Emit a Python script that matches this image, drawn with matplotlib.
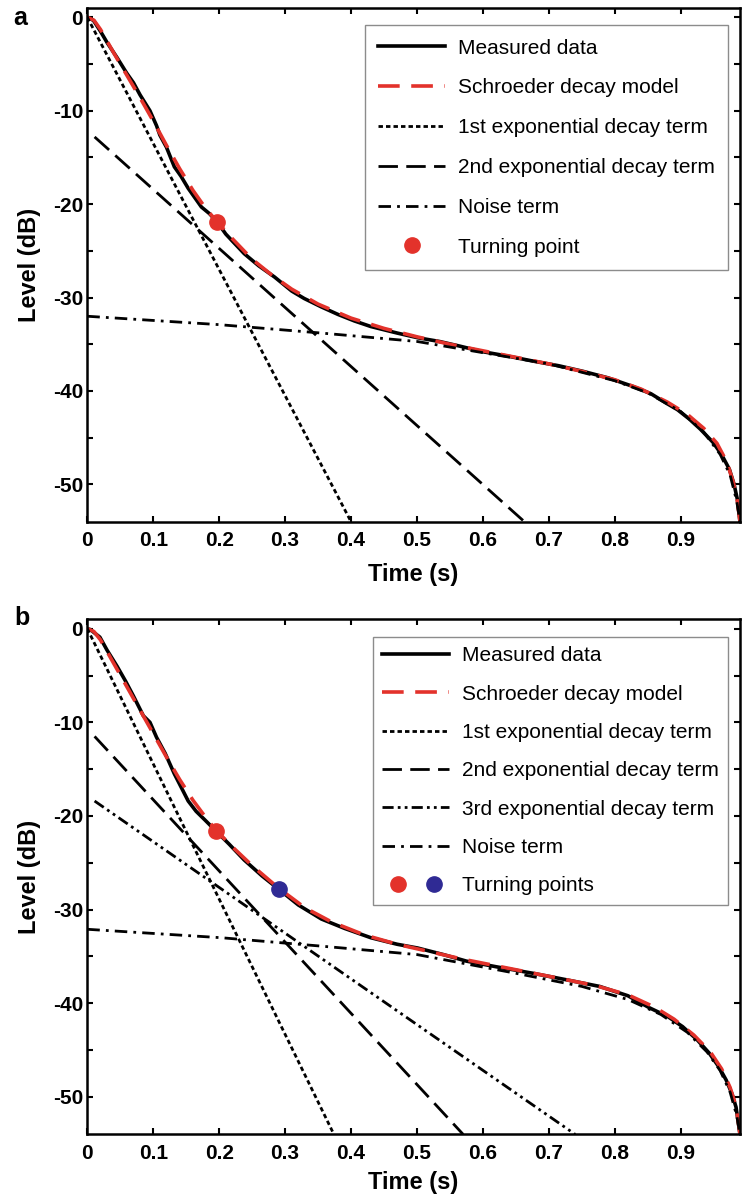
import matplotlib
matplotlib.use("Agg")
import matplotlib.pyplot as plt
from matplotlib.legend_handler import HandlerTuple

plt.rcParams['font.family'] = ['Liberation Sans', 'DejaVu Sans']
plt.rcParams['axes.unicode_minus'] = False

RED = '#e3322b'
BLUE = '#2f2a94'

# ---------------- panel a data ----------------
a_meas_t = [0, 0.005, 0.01, 0.02, 0.03, 0.045, 0.06, 0.07, 0.08, 0.095, 0.105, 0.11,
            0.12, 0.132, 0.142, 0.153, 0.16, 0.173, 0.185, 0.197, 0.21, 0.238, 0.26,
            0.284, 0.31, 0.329, 0.355, 0.38, 0.405, 0.43, 0.47, 0.501, 0.534, 0.565,
            0.6, 0.64, 0.676, 0.715, 0.752, 0.79, 0.827, 0.855, 0.878, 0.895, 0.913,
            0.93, 0.949, 0.962, 0.974, 0.981, 0.986, 0.99]
a_meas_L = [0, -0.1, -0.4, -1.5, -2.7, -4.3, -6.0, -7.0, -8.3, -10.0, -11.6, -12.6,
            -13.9, -16.0, -17.0, -18.3, -19.0, -20.3, -21.0, -21.9, -23.2, -25.3, -26.6,
            -27.8, -29.3, -30.1, -31.0, -31.8, -32.5, -33.1, -33.8, -34.3, -34.7, -35.2,
            -35.8, -36.3, -36.8, -37.3, -37.9, -38.6, -39.5, -40.3, -41.3, -42.0, -43.0,
            -44.1, -45.5, -46.8, -48.4, -50.0, -51.6, -54.0]
a_model_t = [0, 0.01, 0.02, 0.04, 0.06, 0.08, 0.10, 0.12, 0.14, 0.16, 0.18, 0.197,
             0.22, 0.25, 0.28, 0.31, 0.35, 0.40, 0.45, 0.50, 0.55, 0.60, 0.65, 0.70,
             0.75, 0.80, 0.84, 0.88, 0.91, 0.935, 0.955, 0.97, 0.98, 0.986, 0.99]
a_model_L = [0, -0.3, -1.3, -3.8, -6.2, -8.6, -11.1, -13.7, -16.2, -18.5, -20.5, -21.9,
             -23.7, -25.9, -27.6, -29.1, -30.7, -32.2, -33.3, -34.2, -35.0, -35.7, -36.4,
             -37.1, -37.9, -38.8, -39.8, -41.2, -42.5, -44.0, -45.6, -47.6, -49.8, -51.8,
             -54.0]
a_exp1_t = [0, 0.40]
a_exp1_L = [0, -54]
a_exp2_t = [0.011, 0.663]
a_exp2_L = [-12.8, -54]
a_noise_t = [0, 0.2, 0.355, 0.5, 0.6, 0.7, 0.8, 0.85, 0.9, 0.935, 0.96, 0.975, 0.985, 0.99]
a_noise_L = [-32.0, -32.9, -33.8, -34.7, -35.9, -37.1, -38.9, -40.2, -42.2, -44.4, -46.8,
             -49.0, -51.8, -54.0]
a_turn_t = [0.197]
a_turn_L = [-21.9]

# ---------------- panel b data ----------------
b_meas_t = [0, 0.005, 0.01, 0.019, 0.03, 0.045, 0.058, 0.07, 0.085, 0.095, 0.105, 0.118,
            0.132, 0.153, 0.165, 0.178, 0.195, 0.215, 0.238, 0.265, 0.29, 0.32, 0.355,
            0.39, 0.43, 0.47, 0.501, 0.54, 0.575, 0.62, 0.676, 0.72, 0.777, 0.82, 0.853,
            0.88, 0.903, 0.925, 0.943, 0.958, 0.969, 0.978, 0.984, 0.99]
b_meas_L = [0, -0.1, -0.4, -0.9, -2.3, -4.0, -5.6, -7.2, -9.3, -10.0, -11.6, -13.3,
            -15.5, -18.4, -19.5, -20.4, -21.6, -23.0, -24.7, -26.4, -27.8, -29.5, -31.0,
            -32.0, -33.0, -33.7, -34.1, -34.8, -35.5, -36.1, -36.8, -37.4, -38.2, -39.2,
            -40.5, -41.4, -42.5, -43.9, -45.3, -46.8, -48.2, -49.7, -51.1, -54.0]
b_model_t = [0, 0.01, 0.02, 0.04, 0.06, 0.08, 0.10, 0.12, 0.14, 0.16, 0.18, 0.195,
             0.22, 0.25, 0.29, 0.33, 0.37, 0.42, 0.47, 0.52, 0.57, 0.62, 0.67, 0.72,
             0.77, 0.82, 0.86, 0.89, 0.92, 0.945, 0.962, 0.975, 0.984, 0.99]
b_model_L = [0, -0.3, -1.2, -3.7, -6.2, -8.7, -11.2, -13.7, -16.1, -18.3, -20.2, -21.5,
             -23.3, -25.3, -27.7, -29.8, -31.3, -32.7, -33.7, -34.5, -35.3, -36.0, -36.7,
             -37.4, -38.1, -39.1, -40.4, -41.7, -43.4, -45.2, -47.0, -49.0, -51.0, -54.0]
b_exp1_t = [0, 0.374]
b_exp1_L = [0, -54]
b_exp2_t = [0.011, 0.570]
b_exp2_L = [-11.5, -54]
b_exp3_t = [0.011, 0.740]
b_exp3_L = [-18.4, -54]
b_noise_t = [0, 0.203, 0.355, 0.5, 0.575, 0.65, 0.75, 0.82, 0.87, 0.91, 0.94, 0.96,
             0.975, 0.985, 0.99]
b_noise_L = [-32.1, -33.0, -33.9, -34.8, -35.8, -36.8, -38.2, -39.6, -41.2, -43.1, -45.2,
             -47.2, -49.5, -52.0, -54.0]
b_turn1_t = [0.195]
b_turn1_L = [-21.6]
b_turn2_t = [0.290]
b_turn2_L = [-27.8]

xticks = [0, 0.1, 0.2, 0.3, 0.4, 0.5, 0.6, 0.7, 0.8, 0.9]
xticklabels = ['0', '0.1', '0.2', '0.3', '0.4', '0.5', '0.6', '0.7', '0.8', '0.9']
yticks = [0, -10, -20, -30, -40, -50]
yminor = [-5, -15, -25, -35, -45]

fig = plt.figure(figsize=(7.42, 12.01), dpi=100)
ax_a = fig.add_axes([0.1177, 0.5656, 0.8796, 0.4277])
ax_b = fig.add_axes([0.1177, 0.0555, 0.8796, 0.4288])

meas_kw = dict(color='black', lw=2.6, solid_joinstyle='round')
model_kw = dict(color=RED, lw=2.6, dashes=(6, 3.2))
exp1_kw = dict(color='black', lw=2.0, dashes=(1.6, 1.1))
exp2_kw = dict(color='black', lw=2.0, dashes=(7, 3))
exp3_kw = dict(color='black', lw=2.0, dashes=(4, 1.5, 1, 1.5, 1, 1.5))
noise_kw = dict(color='black', lw=2.0, dashes=(4.5, 2.2, 1, 2.2))


def style_axes(ax):
    ax.set_xlim(0, 0.99)
    ax.set_ylim(-54, 1)
    ax.set_xticks(xticks)
    ax.set_xticklabels(xticklabels)
    ax.set_yticks(yticks)
    ax.set_yticks(yminor, minor=True)
    ax.tick_params(which='both', direction='in', top=True, right=True,
                   length=4.5, width=1.5)
    ax.tick_params(axis='x', pad=7)
    ax.tick_params(axis='y', pad=3)
    for lab in ax.get_xticklabels() + ax.get_yticklabels():
        lab.set_fontsize(15)
        lab.set_fontweight('bold')
    for sp in ax.spines.values():
        sp.set_linewidth(1.8)


# panel a
ax = ax_a
h1, = ax.plot(a_meas_t, a_meas_L, label='Measured data', **meas_kw)
h2, = ax.plot(a_model_t, a_model_L, label='Schroeder decay model', **model_kw)
h3, = ax.plot(a_exp1_t, a_exp1_L, label='1st exponential decay term', **exp1_kw)
h4, = ax.plot(a_exp2_t, a_exp2_L, label='2nd exponential decay term', **exp2_kw)
h5, = ax.plot(a_noise_t, a_noise_L, label='Noise term', **noise_kw)
h6, = ax.plot(a_turn_t, a_turn_L, 'o', color=RED, ms=11, label='Turning point')
style_axes(ax)
leg = ax.legend(handles=[h1, h2, h3, h4, h5, h6], loc='upper right',
                bbox_to_anchor=(0.982, 0.967), borderaxespad=0, fontsize=15,
                handlelength=3.2, handletextpad=0.62, labelspacing=1.0,
                borderpad=0.65, fancybox=False, framealpha=1, numpoints=1)
leg.get_frame().set_edgecolor('#8c8c8c')
leg.get_frame().set_linewidth(1.0)

# panel b
ax = ax_b
g1, = ax.plot(b_meas_t, b_meas_L, label='Measured data', **meas_kw)
g2, = ax.plot(b_model_t, b_model_L, label='Schroeder decay model', **model_kw)
g3, = ax.plot(b_exp1_t, b_exp1_L, label='1st exponential decay term', **exp1_kw)
g4, = ax.plot(b_exp2_t, b_exp2_L, label='2nd exponential decay term', **exp2_kw)
g5, = ax.plot(b_exp3_t, b_exp3_L, label='3rd exponential decay term', **exp3_kw)
g6, = ax.plot(b_noise_t, b_noise_L, label='Noise term', **noise_kw)
g7, = ax.plot(b_turn1_t, b_turn1_L, 'o', color=RED, ms=11)
g8, = ax.plot(b_turn2_t, b_turn2_L, 'o', color=BLUE, ms=11)
style_axes(ax)
leg = ax.legend(handles=[g1, g2, g3, g4, g5, g6, (g7, g8)],
                labels=['Measured data', 'Schroeder decay model',
                        '1st exponential decay term', '2nd exponential decay term',
                        '3rd exponential decay term', 'Noise term', 'Turning points'],
                handler_map={tuple: HandlerTuple(ndivide=None, pad=0.3)},
                loc='upper right', bbox_to_anchor=(0.982, 0.966), borderaxespad=0,
                fontsize=15, handlelength=3.2, handletextpad=0.62,
                labelspacing=0.93, borderpad=0.45, fancybox=False, framealpha=1,
                numpoints=1)
leg.get_frame().set_edgecolor('#8c8c8c')
leg.get_frame().set_linewidth(1.0)

# axis titles and panel letters
W, H = 742.0, 1201.0
fig.text(413.5 / W, 1 - 575 / H, 'Time (s)', ha='center', va='center',
         fontsize=17, fontweight='bold')
fig.text(413.5 / W, 1 - 1183 / H, 'Time (s)', ha='center', va='center',
         fontsize=17, fontweight='bold')
fig.text(30 / W, 1 - 265 / H, 'Level (dB)', ha='center', va='center',
         rotation=90, fontsize=17, fontweight='bold')
fig.text(30 / W, 1 - 877 / H, 'Level (dB)', ha='center', va='center',
         rotation=90, fontsize=17, fontweight='bold')
fig.text(20 / W, 1 - 18 / H, 'a', ha='center', va='center',
         fontsize=18, fontweight='bold')
fig.text(22 / W, 1 - 618 / H, 'b', ha='center', va='center',
         fontsize=18, fontweight='bold')

fig.savefig('out.png', dpi=100)
